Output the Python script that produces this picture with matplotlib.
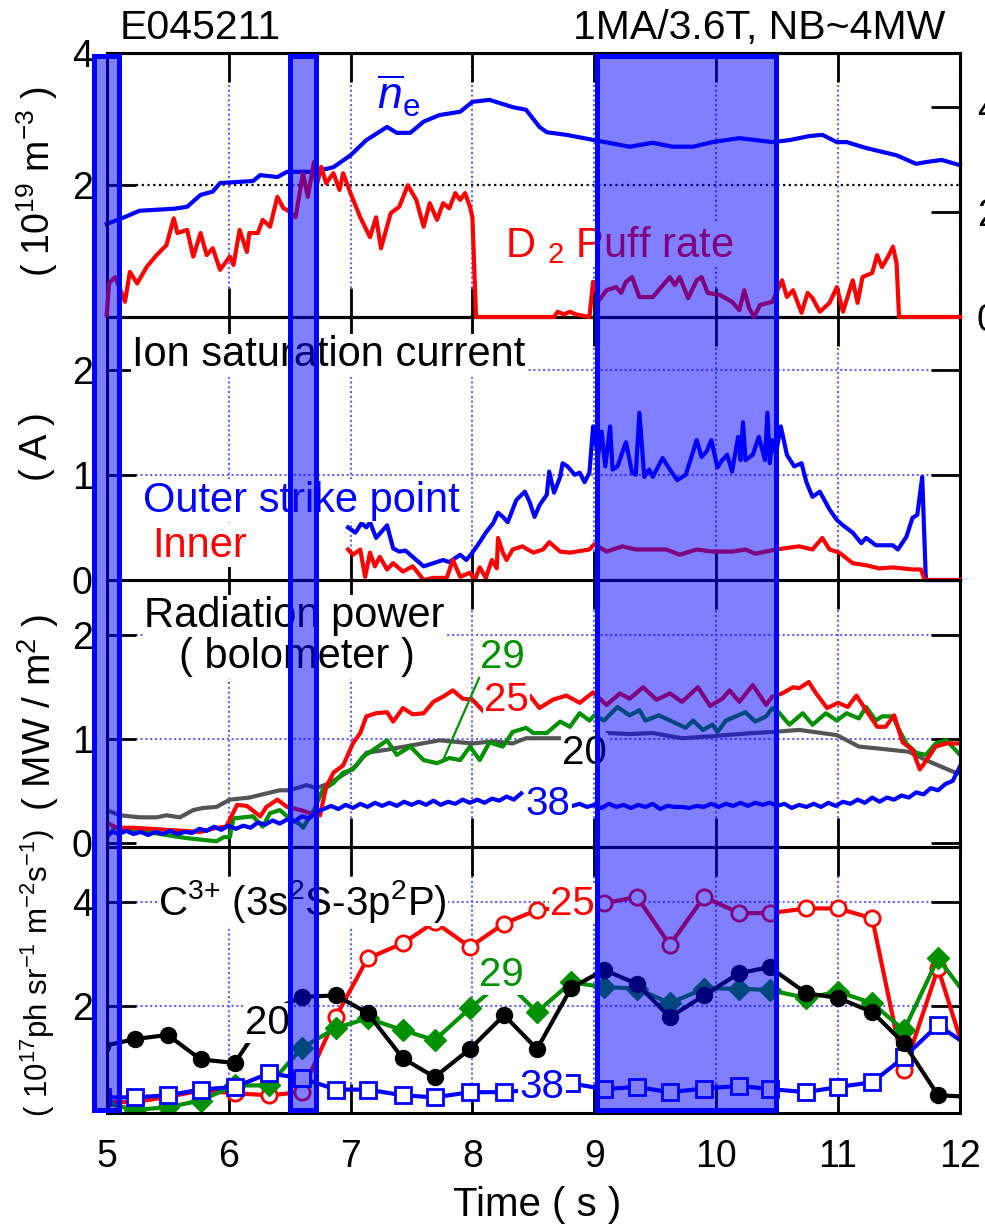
import numpy as np
import matplotlib
matplotlib.use("Agg")
import matplotlib.pyplot as plt
from matplotlib.patches import Rectangle

plt.rcParams["font.family"] = ["Liberation Sans", "DejaVu Sans"]
plt.rcParams["mathtext.fontset"] = "custom"
plt.rcParams["mathtext.rm"] = "Liberation Sans"
plt.rcParams["mathtext.it"] = "Liberation Sans:italic"
plt.rcParams["mathtext.bf"] = "Liberation Sans:bold"

# ---------------- data ----------------
# line-averaged density (10^19 m^-3)
t_ne = [5.00, 5.13, 5.27, 5.55, 5.66, 5.77, 5.87, 5.93, 6.20, 6.26, 6.40, 6.48, 6.70,
        6.86, 7.00, 7.13, 7.30, 7.38, 7.49, 7.60, 7.73, 7.90, 8.00, 8.14, 8.33, 8.44,
        8.55, 8.61, 8.77, 9.00, 9.29, 9.48, 9.64, 9.81, 9.97, 10.19, 10.46, 10.60,
        10.76, 10.87, 10.99, 11.07, 11.23, 11.48, 11.64, 11.73, 11.85, 12.00]
ne = [1.41, 1.50, 1.61, 1.64, 1.67, 1.85, 1.90, 2.03, 2.06, 2.15, 2.12, 2.20, 2.20,
      2.27, 2.45, 2.68, 2.88, 2.79, 2.79, 2.96, 3.06, 3.11, 3.26, 3.29, 3.18, 3.14,
      2.88, 2.80, 2.76, 2.68, 2.58, 2.64, 2.58, 2.58, 2.65, 2.71, 2.65, 2.68,
      2.74, 2.76, 2.65, 2.65, 2.56, 2.45, 2.32, 2.35, 2.38, 2.30]

# D2 puff rate (right axis)
t_puff = [5.00, 5.02, 5.07, 5.15, 5.19, 5.25, 5.33, 5.41, 5.49, 5.55, 5.58, 5.66, 5.71,
          5.77, 5.82, 5.87, 5.93, 6.01, 6.04, 6.09, 6.15, 6.17, 6.24, 6.28, 6.34, 6.40,
          6.45, 6.48, 6.55, 6.61, 6.65, 6.70, 6.72, 6.76, 6.80, 6.86, 6.91, 6.94, 7.00,
          7.08, 7.16, 7.21, 7.25, 7.33, 7.40, 7.47, 7.54, 7.60, 7.65, 7.71, 7.76, 7.81,
          7.86, 7.90, 7.94, 7.98, 8.00, 8.03, 8.67, 8.70, 8.75, 8.80, 8.85, 8.96, 8.99,
          9.04, 9.10, 9.18, 9.22, 9.26, 9.31, 9.37, 9.48, 9.55, 9.62, 9.66, 9.70, 9.77,
          9.84, 9.88, 9.93, 10.03, 10.13, 10.19, 10.23, 10.27, 10.31, 10.36, 10.46,
          10.54, 10.58, 10.63, 10.70, 10.75, 10.79, 10.85, 10.93, 10.99, 11.04, 11.12,
          11.16, 11.20, 11.28, 11.32, 11.36, 11.41, 11.45, 11.48, 11.50, 12.00]
puff = [0.04, 0.65, 0.76, 0.29, 0.86, 0.64, 0.96, 1.18, 1.37, 1.88, 1.60, 1.66, 1.15,
        1.60, 1.18, 1.31, 0.90, 1.15, 0.99, 1.66, 1.24, 1.60, 1.60, 1.85, 1.72, 2.29,
        2.07, 2.04, 1.90, 2.74, 2.29, 2.95, 2.48, 2.86, 2.55, 2.74, 2.42, 2.74, 2.36,
        1.90, 1.52, 1.90, 1.31, 1.98, 2.10, 2.51, 2.23, 1.72, 2.17, 1.85, 2.17, 2.07,
        2.36, 2.23, 2.36, 2.10, 1.90, 0.00, 0.00, 0.10, 0.05, 0.10, 0.05, 0.00, 0.67,
        0.32, 0.51, 0.57, 0.46, 0.67, 0.76, 0.38, 0.38, 0.57, 0.76, 0.61, 0.76, 0.36,
        0.70, 0.76, 0.46, 0.42, 0.29, 0.13, 0.51, 0.17, 0.00, 0.23, 0.29,
        0.70, 0.38, 0.51, 0.08, 0.46, 0.36, 0.10, 0.27, 0.57, 0.10, 0.70,
        0.27, 0.76, 0.84, 1.18, 0.95, 1.15, 1.34, 1.02, 0.00, 0.00]

# ion saturation current (A)
t_outer = [6.98, 7.04, 7.09, 7.13, 7.16, 7.21, 7.30, 7.35, 7.40, 7.45, 7.51, 7.60, 7.68,
           7.76, 7.81, 7.90, 7.95, 8.00, 8.06, 8.11, 8.17, 8.21, 8.25, 8.29, 8.36, 8.43,
           8.47, 8.51, 8.55, 8.61, 8.63, 8.67, 8.72, 8.74, 8.78, 8.84, 8.88, 8.92, 8.96,
           8.99, 9.03, 9.06, 9.09, 9.13, 9.15, 9.19, 9.26, 9.31, 9.34, 9.37, 9.41, 9.45,
           9.48, 9.56, 9.62, 9.68, 9.75, 9.84, 9.88, 9.92, 9.96, 10.01, 10.05, 10.09,
           10.13, 10.18, 10.20, 10.22, 10.24, 10.30, 10.35, 10.40, 10.42, 10.44, 10.46,
           10.49, 10.53, 10.58, 10.64, 10.70, 10.74, 10.79, 10.85, 10.93, 10.99, 11.04,
           11.12, 11.19, 11.23, 11.31, 11.45, 11.49, 11.56, 11.61, 11.65, 11.69, 11.72,
           12.00]
outer = [0.50, 0.45, 0.54, 0.50, 0.55, 0.40, 0.52, 0.30, 0.27, 0.28, 0.22, 0.13, 0.16,
         0.19, 0.17, 0.24, 0.19, 0.26, 0.36, 0.45, 0.54, 0.64, 0.60, 0.55, 0.76, 0.84,
         0.74, 0.60, 0.71, 0.81, 1.03, 0.83, 0.98, 1.11, 1.08, 1.00, 1.02, 0.93, 1.02,
         1.46, 1.17, 1.41, 1.08, 1.46, 1.05, 1.08, 1.31, 1.02, 1.00, 1.59, 0.98, 1.05,
         0.98, 1.16, 1.05, 0.95, 1.00, 1.33, 1.17, 1.22, 1.33, 1.07, 1.14, 1.19,
         1.03, 1.36, 1.14, 1.50, 1.14, 1.19, 1.36, 1.14, 1.59, 1.11, 1.33,
         1.20, 1.46, 1.19, 1.08, 1.11, 0.93, 0.79, 0.84, 0.67, 0.57, 0.52,
         0.45, 0.35, 0.40, 0.33, 0.33, 0.29, 0.41, 0.59, 0.62, 0.98, 0.00,
         0.00]
t_inner = [6.98, 7.02, 7.08, 7.12, 7.16, 7.20, 7.24, 7.30, 7.35, 7.43, 7.51, 7.60, 7.68,
           7.79, 7.84, 7.90, 7.98, 8.02, 8.06, 8.11, 8.16, 8.20, 8.21, 8.25, 8.28, 8.33,
           8.41, 8.50, 8.58, 8.63, 8.72, 8.80, 8.96, 9.00, 9.10, 9.23, 9.34, 9.42, 9.59,
           9.70, 9.84, 9.97, 10.13, 10.24, 10.32, 10.49, 10.68, 10.79, 10.87, 10.93,
           11.01, 11.12, 11.23, 11.34, 11.45, 11.61, 11.68, 11.71, 12.00]
inner = [0.29, 0.24, 0.29, 0.03, 0.26, 0.13, 0.22, 0.10, 0.16, 0.08, 0.13, 0.00, 0.02,
         0.02, 0.19, 0.03, 0.07, 0.00, 0.12, 0.02, 0.19, 0.11, 0.40, 0.26, 0.19, 0.29,
         0.32, 0.26, 0.29, 0.36, 0.27, 0.26, 0.29, 0.34, 0.27, 0.32, 0.29, 0.29, 0.29,
         0.24, 0.29, 0.27, 0.27, 0.29, 0.25, 0.29, 0.32, 0.29, 0.40, 0.29,
         0.26, 0.16, 0.14, 0.11, 0.12, 0.10, 0.10, 0.00, 0.00]

# bolometer radiation power (MW/m^2), chords 20, 25, 29, 38
t_b20 = [5.00, 5.11, 5.27, 5.41, 5.49, 5.60, 5.71, 5.79, 5.90, 6.01, 6.17, 6.31, 6.42,
         6.50, 6.64, 6.72, 6.83, 6.97, 7.05, 7.13, 7.30, 7.54, 7.73, 8.00, 8.17, 8.33,
         8.44, 8.72, 8.90, 9.11, 9.29, 9.48, 9.72, 9.97, 10.30, 10.46, 10.68, 10.99,
         11.17, 11.34, 11.58, 11.72, 11.94, 12.00]
b20 = [0.32, 0.27, 0.25, 0.25, 0.27, 0.25, 0.32, 0.34, 0.35, 0.42, 0.44, 0.48, 0.51,
       0.51, 0.56, 0.53, 0.58, 0.68, 0.75, 0.87, 0.90, 0.95, 0.99, 0.96, 0.98, 0.96,
       1.01, 1.01, np.nan, 1.06, 1.05, 1.06, 1.01, 1.03, 1.06, 1.07, 1.09, 1.04,
       0.93, 0.91, 0.88, 0.80, 0.69, 0.67]
t_b25 = [5.00, 5.08, 5.22, 5.49, 5.77, 5.90, 5.98, 6.07, 6.15, 6.26, 6.31, 6.40, 6.48,
         6.59, 6.67, 6.75, 6.80, 6.86, 6.94, 7.02, 7.08, 7.13, 7.21, 7.30, 7.35, 7.43,
         7.51, 7.60, 7.68, 7.76, 7.84, 7.92, 8.00, 8.09, 8.28, 8.47, 8.55, 8.66, 8.77,
         8.88, 8.99, 9.10, 9.21, 9.29, 9.40, 9.51, 9.62, 9.72, 9.85, 9.95, 10.05, 10.11,
         10.19, 10.30, 10.41, 10.46, 10.54, 10.63, 10.68, 10.76, 10.82, 10.91, 11.00,
         11.08, 11.15, 11.23, 11.32, 11.39, 11.46, 11.53, 11.61, 11.67, 11.72, 11.80,
         11.89, 12.00]
b25 = [0.20, 0.15, 0.15, 0.13, 0.11, 0.15, 0.16, 0.37, 0.36, 0.26, 0.35, 0.42, 0.35,
       0.32, 0.29, 0.27, 0.54, 0.68, 0.75, 0.96, 1.06, 1.22, 1.25, 1.26, 1.17, 1.30,
       1.24, 1.25, 1.36, 1.41, 1.47, 1.39, 1.38, 1.27, 1.35, 1.42, 1.30, 1.38, 1.42,
       1.35, 1.45, 1.33, 1.44, 1.39, 1.50, 1.38, 1.44, 1.36, 1.50, 1.32, 1.39, 1.47,
       1.36, 1.52, 1.33, 1.41, 1.44, 1.50, 1.49, 1.55, 1.44, 1.30, 1.35,
       1.31, 1.42, 1.28, 1.12, 1.12, 1.23, 0.97, 0.90, 0.71, 0.79, 0.93,
       0.96, 0.96]
t_b29 = [5.00, 5.06, 5.22, 5.49, 5.66, 5.82, 5.90, 5.96, 6.01, 6.04, 6.20, 6.28, 6.34,
         6.42, 6.48, 6.59, 6.61, 6.70, 6.77, 6.86, 6.94, 7.02, 7.10, 7.19, 7.30, 7.38,
         7.49, 7.60, 7.71, 7.81, 7.90, 7.98, 8.06, 8.14, 8.25, 8.33, 8.44, 8.50, 8.61,
         8.72, 8.80, 8.88, 8.96, 9.00, 9.08, 9.19, 9.29, 9.37, 9.42, 9.53, 9.64, 9.75,
         9.81, 9.89, 9.97, 10.01, 10.08, 10.16, 10.24, 10.32, 10.41, 10.46, 10.52,
         10.60, 10.71, 10.79, 10.90, 10.99, 11.07, 11.17, 11.23, 11.31, 11.36, 11.45,
         11.50, 11.56, 11.64, 11.72, 11.80, 11.89, 12.00]
b29 = [0.05, 0.15, 0.13, 0.08, 0.05, 0.03, 0.02, 0.06, 0.06, 0.24, 0.26, 0.16, 0.29,
       0.32, 0.26, 0.18, 0.15, 0.32, 0.51, 0.58, 0.68, 0.71, 0.83, 0.90, 0.99, 0.85,
       0.93, 0.80, 0.77, 0.82, 0.80, 0.93, 0.80, 0.97, 0.93, 1.07, 1.11, 1.06, 1.06,
       1.17, 1.12, 1.25, 1.18, 1.23, 1.18, 1.31, 1.23, 1.28, 1.18, 1.23, 1.17, 1.11,
       1.18, 1.09, 1.14, 1.07, 1.18, 1.22, 1.26, 1.17, 1.22, 1.30, 1.25,
       1.14, 1.25, 1.14, 1.25, 1.18, 1.25, 1.20, 1.31, 1.18, 1.22, 1.22,
       1.09, 0.96, 0.87, 0.85, 0.96, 0.99, 0.85]
t_b38 = [5.00, 5.05, 5.10, 5.16, 5.22, 5.28, 5.34, 5.40, 5.46, 5.52, 5.58, 5.64, 5.70,
         5.76, 5.82, 5.88, 5.94, 6.00, 6.06, 6.12, 6.18, 6.24, 6.30, 6.36, 6.42, 6.48,
         6.54, 6.60, 6.66, 6.72, 6.78, 6.84, 6.90, 6.96, 7.02, 7.08, 7.14, 7.20, 7.26,
         7.32, 7.38, 7.44, 7.50, 7.56, 7.62, 7.68, 7.74, 7.80, 7.86, 7.92, 7.98, 8.04,
         8.10, 8.16, 8.22, 8.28, 8.34, 8.40, 8.60,
         8.82, 8.88, 8.94, 9.00, 9.06, 9.12, 9.18, 9.24, 9.30, 9.36, 9.42, 9.48, 9.54,
         9.60, 9.66, 9.72, 9.78, 9.84, 9.90, 9.96, 10.02, 10.08, 10.14, 10.20, 10.26,
         10.32, 10.38, 10.44, 10.50, 10.56, 10.62, 10.68, 10.74, 10.80, 10.86, 10.92,
         10.98, 11.04, 11.10, 11.16, 11.22, 11.28, 11.34, 11.40, 11.46, 11.52, 11.58,
         11.64, 11.70, 11.76, 11.82, 11.88, 11.94, 12.00]
b38 = [0.08, 0.11, 0.09, 0.12, 0.09, 0.11, 0.08, 0.11, 0.09, 0.12, 0.09, 0.11, 0.10,
       0.14, 0.12, 0.16, 0.13, 0.17, 0.14, 0.17, 0.15, 0.20, 0.18, 0.22, 0.19, 0.23,
       0.21, 0.26, 0.24, 0.30, 0.33, 0.36, 0.33, 0.37, 0.34, 0.38, 0.35, 0.39, 0.36,
       0.39, 0.36, 0.40, 0.37, 0.40, 0.37, 0.41, 0.37, 0.40, 0.38, 0.42, 0.39, 0.42,
       0.39, 0.43, 0.41, 0.45, 0.42, 0.48, np.nan,
       0.36, 0.38, 0.35, 0.37, 0.34, 0.38, 0.35, 0.37, 0.34, 0.37, 0.35, 0.38, 0.33,
       0.36, 0.35, 0.35, 0.34, 0.36, 0.35, 0.38, 0.35, 0.38, 0.36, 0.39, 0.36,
       0.39, 0.37, 0.39, 0.36, 0.38, 0.34, 0.37, 0.35, 0.38, 0.35, 0.39,
       0.36, 0.40, 0.38, 0.42, 0.39, 0.44, 0.40, 0.44, 0.42, 0.46, 0.44,
       0.49, 0.47, 0.53, 0.51, 0.57, 0.60, 0.74]

# C3+ line intensity (10^17 ph sr^-1 m^-2 s^-1)
t_c3 = [4.96, 5.23, 5.50, 5.77, 6.05, 6.33, 6.60, 6.88, 7.14, 7.43, 7.69, 7.98, 8.26,
        8.53, 8.81, 9.08, 9.35, 9.62, 9.90, 10.19, 10.44, 10.74, 11.00, 11.28, 11.54,
        11.82, 12.10]
c3_25 = [0.15, 0.15, 0.25, 0.37, 0.32, 0.28, 0.34, 1.79, 2.91, 3.20, 3.61, 3.13, 3.58,
         3.84, 3.90, 3.97, 4.09, 3.17, 4.09, 3.78, 3.78, 3.87, 3.87, 3.68, 0.76,
         2.72, 0.64]
c3_20 = [1.22, 1.36, 1.44, 0.97, 0.90, 1.88, 2.17, 2.20, 1.86, 0.99, 0.63, 1.17, 1.82,
         1.17, 2.34, 2.69, 2.42, 1.78, 2.20, 2.63, 2.74, 2.24, 2.15, 1.88, 1.28,
         0.28, 0.25]
c3_29 = [0.15, 0.00, 0.05, 0.18, 0.47, 0.47, 1.19, 1.57, 1.76, 1.53, 1.34, 1.95, 2.50,
         1.88, 2.45, 2.36, 2.33, 2.05, 2.33, 2.33, 2.30, 2.15, 2.27, 2.05, 1.53,
         2.91, 2.05]
c3_38 = [0.24, 0.24, 0.28, 0.39, 0.44, 0.70, 0.61, 0.39, 0.39, 0.28, 0.24, 0.34, 0.34,
         0.40, 0.51, 0.40, 0.44, 0.34, 0.41, 0.46, 0.40, 0.34, 0.44, 0.53, 1.01,
         1.63, 1.18]

# analysis time windows (s)
windows = [(4.896, 5.105), (6.507, 6.720), (9.020, 10.490)]

x_ticks = [5, 6, 7, 8, 9, 10, 11, 12]

# ---------------- styling ----------------
RED = "#ff0000"
BLUE = "#0000ff"
GREEN = "#009000"
GRAY = "#555555"
GRID = "#6464ff"
FS = 27      # tick labels
LFS = 30     # in-panel annotations
LW = 3.0
W_PX, H_PX = 985, 1225

fig = plt.figure(figsize=(W_PX / 100, H_PX / 100), dpi=100)


def px_rect(top, bottom, left=106.7, right=960.0):
    return [left / W_PX, 1 - bottom / H_PX, (right - left) / W_PX, (bottom - top) / H_PX]


ax1 = fig.add_axes(px_rect(53, 317))
ax2 = fig.add_axes(px_rect(317, 580))
ax3 = fig.add_axes(px_rect(580, 846.5))
ax4 = fig.add_axes(px_rect(846.5, 1113))

white = dict(facecolor="white", edgecolor="none", pad=1.0)
grid_ls = (0, (1, 1.3))

for ax in (ax1, ax2, ax3, ax4):
    ax.set_xlim(5, 12)
    ax.set_xticks(x_ticks)
    ax.patch.set_visible(False)
    ax.tick_params(direction="in", length=21, width=2, top=True, right=True,
                   labelsize=FS, pad=10)
    ax.tick_params(axis="x", pad=19)
    for s in ax.spines.values():
        s.set_linewidth(2.2)
    ax.grid(axis="x", color=GRID, linestyle=grid_ls, linewidth=1.5)
    if ax is not ax4:
        ax.tick_params(labelbottom=False)

# ---- panel 1: density and puff rate ----
ax1.tick_params(right=False)
ax1.set_ylim(0, 4)
ax1.set_yticks([0, 2, 4])
ax1.set_yticklabels(["", "2", "4"])
ax1.axhline(2, color="black", linestyle=(0, (1, 1.6)), linewidth=1.6, zorder=1.5)
ax1.plot(t_ne, ne, color=BLUE, lw=LW, zorder=2.6, clip_on=False)
ax1.text(7.22, 3.14, r"$\overline{n}_{\mathrm{e}}$", color=BLUE, fontsize=32,
         ha="left", va="baseline")

ax1r = ax1.twinx()
ax1r.set_ylim(0, 5.03)
ax1r.set_yticks([0, 2, 4])
ax1r.tick_params(direction="in", length=21, width=2, labelsize=FS, pad=12)
for s in ax1r.spines.values():
    s.set_linewidth(2.2)
ax1r.plot(t_puff, puff, color=RED, lw=LW, zorder=2.6, clip_on=False)
ax1r.text(8.265, 1.14, r"D $_2$ Puff rate", color=RED, fontsize=LFS,
          ha="left", va="baseline", bbox=white, zorder=1)

# ---- panel 2: ion saturation current ----
ax2.set_ylim(0, 2.5)
ax2.set_yticks([0, 1, 2])
for v in (1, 2):
    ax2.axhline(v, color=GRID, linestyle=grid_ls, linewidth=1.5, zorder=0.8)
ax2.plot(t_outer, outer, color=BLUE, lw=LW, zorder=2.6, clip_on=False)
ax2.plot(t_inner, inner, color=RED, lw=LW, zorder=2.7, clip_on=False)
ax2.text(5.207, 2.03, "Ion saturation current", fontsize=LFS, ha="left",
         va="baseline", bbox=white)
ax2.text(5.30, 0.65, "Outer strike point", fontsize=LFS, color=BLUE, ha="left",
         va="baseline", bbox=white)
ax2.text(5.37, 0.22, "Inner", fontsize=LFS, color=RED, ha="left", va="baseline",
         bbox=white)

# ---- panel 3: bolometer ----
ax3.set_ylim(-0.03, 2.53)
ax3.set_yticks([0, 1, 2])
for v in (1, 2):
    ax3.axhline(v, color=GRID, linestyle=grid_ls, linewidth=1.5, zorder=0.8)
ax3.plot(t_b20, b20, color=GRAY, lw=LW)
ax3.plot(t_b29, b29, color=GREEN, lw=LW)
ax3.plot(t_b25, b25, color=RED, lw=LW)
ax3.plot(t_b38, b38, color=BLUE, lw=LW)
ax3.text(6.54, 2.08, "Radiation power", fontsize=LFS, ha="center", va="baseline",
         bbox=white)
ax3.text(6.56, 1.68, "( bolometer )", fontsize=LFS, ha="center", va="baseline",
         bbox=white)
ax3.annotate("29", xy=(7.76, 0.80), xytext=(8.245, 1.79), color=GREEN, fontsize=29,
             ha="center", va="center", bbox=white,
             arrowprops=dict(arrowstyle="-", color=GREEN, lw=1.6, shrinkA=0,
                             shrinkB=0, relpos=(0.0, 0.0)))
ax3.text(8.28, 1.38, "25", color=RED, fontsize=29, ha="center", va="center", bbox=white)
ax3.text(8.92, 0.87, "20", color="black", fontsize=29, ha="center", va="center",
         bbox=white)
ax3.text(8.62, 0.38, "38", color=BLUE, fontsize=29, ha="center", va="center",
         bbox=white)

# ---- panel 4: C3+ emission ----
ax4.set_ylim(-0.06, 5.06)
ax4.set_yticks([2, 4])
for v in (2, 4):
    ax4.axhline(v, color=GRID, linestyle=grid_ls, linewidth=1.5, zorder=0.8)
ax4.plot(t_c3, c3_25, color=RED, lw=LW, marker="o", ms=11, mfc="white", mec=RED, mew=2)
ax4.plot(t_c3, c3_29, color=GREEN, lw=LW, marker="D", ms=11.5, mfc=GREEN, mec=GREEN)
ax4.plot(t_c3, c3_38, color=BLUE, lw=LW, marker="s", ms=11.5, mfc="white", mec=BLUE,
         mew=2)
ax4.plot(t_c3, c3_20, color="black", lw=LW, marker="o", ms=11.5, mfc="black",
         mec="black")
ax4.text(5.42, 4.0, r"C$^{3{+}}$ (3s$^2$S-3p$^2$P)", fontsize=29, ha="left",
         va="center", bbox=white)
ax4.text(6.315, 1.67, "20", color="black", fontsize=29, ha="center", va="center",
         bbox=white)
ax4.text(8.24, 2.59, "29", color=GREEN, fontsize=29, ha="center", va="center",
         bbox=white)
ax4.text(8.82, 3.96, "25", color=RED, fontsize=29, ha="center", va="center", bbox=white)
ax4.text(8.57, 0.43, "38", color=BLUE, fontsize=29, ha="center", va="center",
         bbox=white)
ax4.set_xticklabels([str(v) for v in x_ticks])


# ---- axis titles ----
def ftext(x, y, s, **kw):
    fig.text(x / W_PX, 1 - y / H_PX, s, **kw)


ftext(37, 182, r"( 10$^{19}$ m$^{-3}$ )", rotation=90, ha="center", va="center",
      fontsize=27)
ftext(37, 447, "( A )", rotation=90, ha="center", va="center", fontsize=28)
ftext(38, 712, r"( MW / m$^{2}$ )", rotation=90, ha="center", va="center", fontsize=28)
ftext(38, 973, r"( 10$^{17}$ph sr$^{-1}$ m$^{-2}$s$^{-1}$)", rotation=90, ha="center",
      va="center", fontsize=22.5)
ftext(537, 1205, "Time ( s )", ha="center", va="center", fontsize=29)
ftext(120, 39, "E045211", ha="left", va="baseline", fontsize=29.5)
ftext(945, 39, "1MA/3.6T, NB~4MW", ha="right", va="baseline", fontsize=29.5)

# ---- shaded time windows across all panels ----
ov = fig.add_axes(px_rect(53, 1113))
ov.set_xlim(5, 12)
ov.set_ylim(0, 1)
ov.axis("off")
ov.set_zorder(20)
for t0, t1 in windows:
    ov.add_patch(Rectangle((t0, 0.0025), t1 - t0, 0.995, facecolor=(0, 0, 1, 0.5),
                           edgecolor=(0, 0, 1, 1), linewidth=3.6, joinstyle="miter",
                           clip_on=False))

fig.savefig("out.png", dpi=100)
